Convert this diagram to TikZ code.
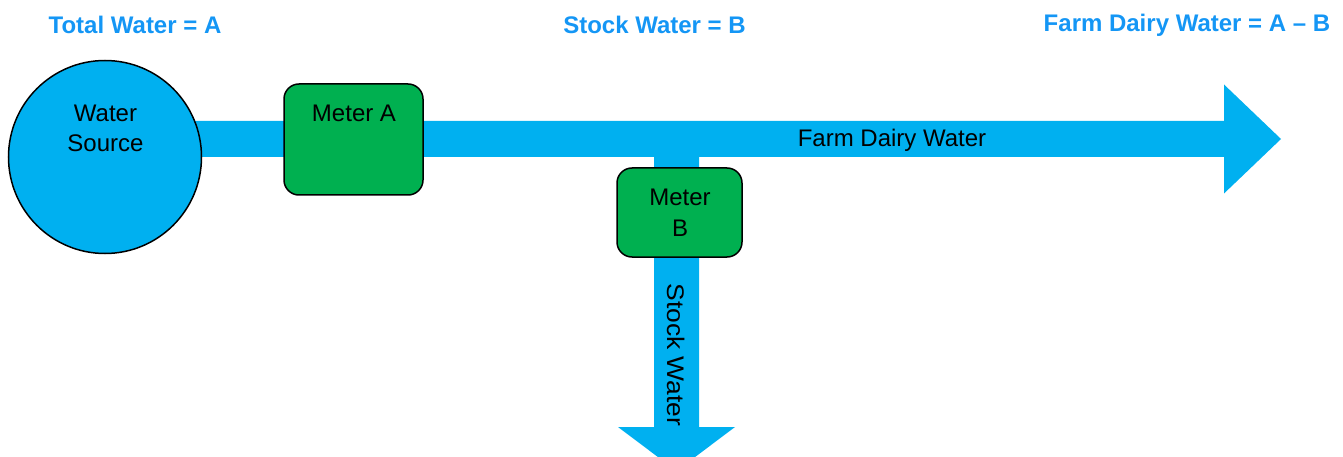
\documentclass[tikz,border=0pt]{standalone}
\usepackage{fontspec}
\setmainfont{Liberation Sans}
\usetikzlibrary{calc}
\definecolor{pipecol}{HTML}{00B0F0}
\definecolor{metercol}{HTML}{00B050}
\definecolor{titlecol}{HTML}{1496F5}
\tikzset{
  pipe/.style={fill=pipecol},
  meter/.style={draw=black, line width=1.5pt, fill=metercol, rounded corners=15pt, inner sep=0pt},
  lbl/.style={font=\fontsize{24}{30}\selectfont, text=black, align=center, inner sep=0pt},
  ttl/.style={font=\fontsize{24}{30}\selectfont\bfseries, text=titlecol, inner sep=0pt},
}
\begin{document}
\begin{tikzpicture}[x=1pt,y=-1pt]
\useasboundingbox (0,0) rectangle (1343,457);
\clip (0,0) rectangle (1343,457);
% named points of the pipes
\coordinate (hstart) at (150,139);
\coordinate (htip) at (1281,139);
\coordinate (vjoin) at (676.5,139);
\coordinate (vtip) at (676.5,471);
% horizontal pipe with arrow head
\fill[pipe] ($(hstart)+(0,-18)$) -- ($(htip)+(-57,-18)$) -- ($(htip)+(-57,-54.5)$)
  -- (htip) -- ($(htip)+(-57,54.5)$) -- ($(htip)+(-57,18)$) -- ($(hstart)+(0,18)$) -- cycle;
% vertical pipe with arrow head
\fill[pipe] ($(vjoin)+(-22.5,0)$) -- ($(vtip)+(-22.5,-44)$) -- ($(vtip)+(-58.5,-44)$)
  -- (vtip) -- ($(vtip)+(58.5,-44)$) -- ($(vtip)+(22.5,-44)$) -- ($(vjoin)+(22.5,0)$) -- cycle;
% water source
\node[circle, draw=black, line width=1.5pt, fill=pipecol, minimum size=193pt, inner sep=0pt] (src) at (105,157) {};
\node[lbl] (srctxt) at (105.5,128) {Water\\Source};
% meters
\node[meter, minimum width=139pt, minimum height=111pt] (ma) at (353.5,139.5) {};
\node[lbl] (matxt) at (354,113) {Meter A};
\node[meter, minimum width=125pt, minimum height=89pt] (mb) at (679.5,212.5) {};
\node[lbl, font=\fontsize{24}{31}\selectfont] (mbtxt) at (680,212.5) {Meter\\B};
% flow labels
\node[lbl] (fdw) at (892,140) {Farm Dairy Water};
\node[lbl, rotate=-90, xscale=1.1] (sw) at (676,355) {Stock Water};
% titles
\node[ttl] (t1) at (135,25) {Total Water = A};
\node[ttl] (t2) at (654.5,25) {Stock Water = B};
\node[ttl] (t3) at (1187,25) {Farm Dairy Water = A – B};
\end{tikzpicture}
\end{document}
